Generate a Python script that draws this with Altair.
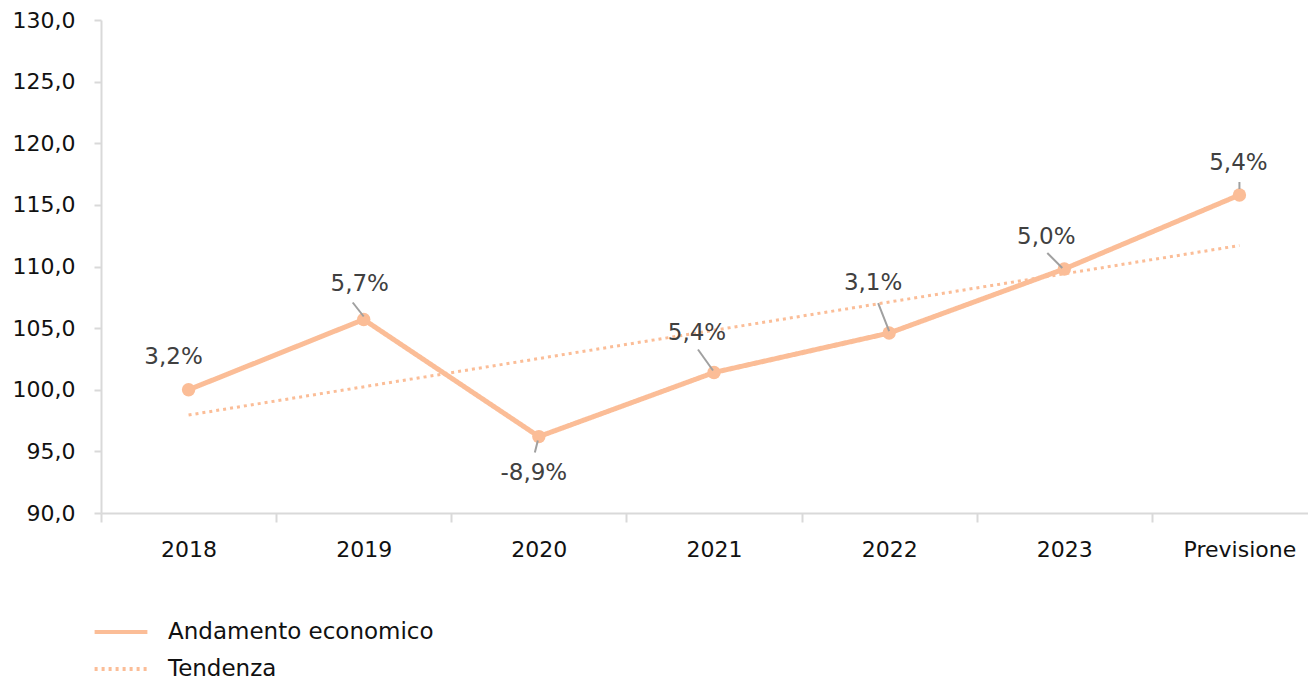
import altair as alt
import pandas as pd

# ---- data ----
categories = ["2018", "2019", "2020", "2021", "2022", "2023", "Previsione"]
values = [100.0, 105.7, 96.2, 101.4, 104.6, 109.8, 115.8]
pct_labels = ["3,2%", "5,7%", "-8,9%", "5,4%", "3,1%", "5,0%", "5,4%"]
trend_categories = ["2018", "Previsione"]
trend_values = [97.95, 111.7]
series_names = ["Andamento economico", "Tendenza"]

# ---- styling ----
FONT = "Tahoma, DejaVu Sans"
LINE_COLOR = "#FBBD97"
LABEL_COLOR = "#404040"
LEADER_COLOR = "#A0A0A0"
AXIS_COLOR = "#D9D9D9"
TEXT_COLOR = "#111111"
# label offsets (dx, dy) in pixels relative to each point
label_offsets = {
    "2018": (-15, -33), "2019": (-4, -35), "2020": (-5, 36), "2021": (-17, -39),
    "2022": (-16, -50), "2023": (-18, -32), "Previsione": (-1, -32),
}
# leader line offsets (x1, y1, x2, y2) relative to each point
leader_offsets = {
    "2019": (-11, -17, 0, -3), "2020": (-1, 4, -4, 16), "2021": (-16, -23, -1, -2),
    "2022": (-11, -30, 0, -2), "2023": (-17, -16, -2, -1), "Previsione": (0, -13, 0, -6),
}

df = pd.DataFrame({"cat": categories, "val": values, "lab": pct_labels,
                   "serie": series_names[0]})
df_trend = pd.DataFrame({"cat": trend_categories, "val": trend_values,
                         "serie": series_names[1]})

x_enc = alt.X("cat:N", sort=categories, title=None,
              scale=alt.Scale(type="band", paddingInner=0, paddingOuter=0,
                              domain=categories, range=[0, 1226]),
              axis=alt.Axis(tickBand="extent", labelAngle=0, labelFont=FONT,
                            labelFontSize=22, labelColor=TEXT_COLOR, labelPadding=17,
                            tickSize=9, tickColor=AXIS_COLOR, domainColor=AXIS_COLOR,
                            domainWidth=2, tickWidth=2))
y_enc = alt.Y("val:Q", title=None,
              scale=alt.Scale(domain=[90, 130], nice=False, zero=False),
              axis=alt.Axis(values=[90, 95, 100, 105, 110, 115, 120, 125, 130],
                            labelExpr="replace(format(datum.value, '.1f'), '.', ',')",
                            labelFont=FONT, labelFontSize=22, labelColor=TEXT_COLOR,
                            labelPadding=19, tickSize=7, tickColor=AXIS_COLOR,
                            domainColor=AXIS_COLOR, domainWidth=2, tickWidth=2,
                            grid=False))

dash_scale = alt.Scale(domain=series_names, range=[[1, 0], [3, 4]])
legend = alt.Legend(title=None, orient="none", legendX=2, legendY=594,
                    symbolType="M-1.65,0H1.65", symbolSize=1024, symbolStrokeWidth=4,
                    symbolStrokeColor=LINE_COLOR, symbolFillColor=LINE_COLOR,
                    labelFont=FONT, labelFontSize=23, labelColor=TEXT_COLOR,
                    labelOffset=29, rowPadding=7, labelLimit=500)

trend = alt.Chart(df_trend).mark_line(color=LINE_COLOR, strokeWidth=3).encode(
    x=x_enc, y=y_enc,
    strokeDash=alt.StrokeDash("serie:N", scale=dash_scale, legend=legend))

main = alt.Chart(df).mark_line(color=LINE_COLOR, strokeWidth=5).encode(
    x=x_enc, y=y_enc,
    strokeDash=alt.StrokeDash("serie:N", scale=dash_scale, legend=legend))

points = alt.Chart(df).mark_circle(color=LINE_COLOR, size=180, opacity=1).encode(
    x=x_enc, y=y_enc)

layers = [trend, main, points]
for c in categories:
    if c in leader_offsets:
        x1, y1, x2, y2 = leader_offsets[c]
        layers.append(
            alt.Chart(df).transform_filter(alt.datum.cat == c)
            .mark_rule(color=LEADER_COLOR, strokeWidth=2, xOffset=x1, yOffset=y1,
                       x2Offset=x2, y2Offset=y2)
            .encode(x=x_enc, y=y_enc, x2="cat:N", y2="val:Q"))
for c in categories:
    dx, dy = label_offsets[c]
    layers.append(
        alt.Chart(df).transform_filter(alt.datum.cat == c)
        .mark_text(font=FONT, fontSize=23, color=LABEL_COLOR, dx=dx, dy=dy,
                   align="center", baseline="middle")
        .encode(x=x_enc, y=y_enc, text="lab:N"))

chart = alt.layer(*layers).properties(
    width=1207, height=493,
    autosize=alt.AutoSizeParams(type="none"),
    padding={"left": 93, "top": 12, "right": 0, "bottom": 168},
    background="white",
).configure_view(stroke=None)

chart.save("out.html", embed_options={"renderer": "svg", "actions": False})
